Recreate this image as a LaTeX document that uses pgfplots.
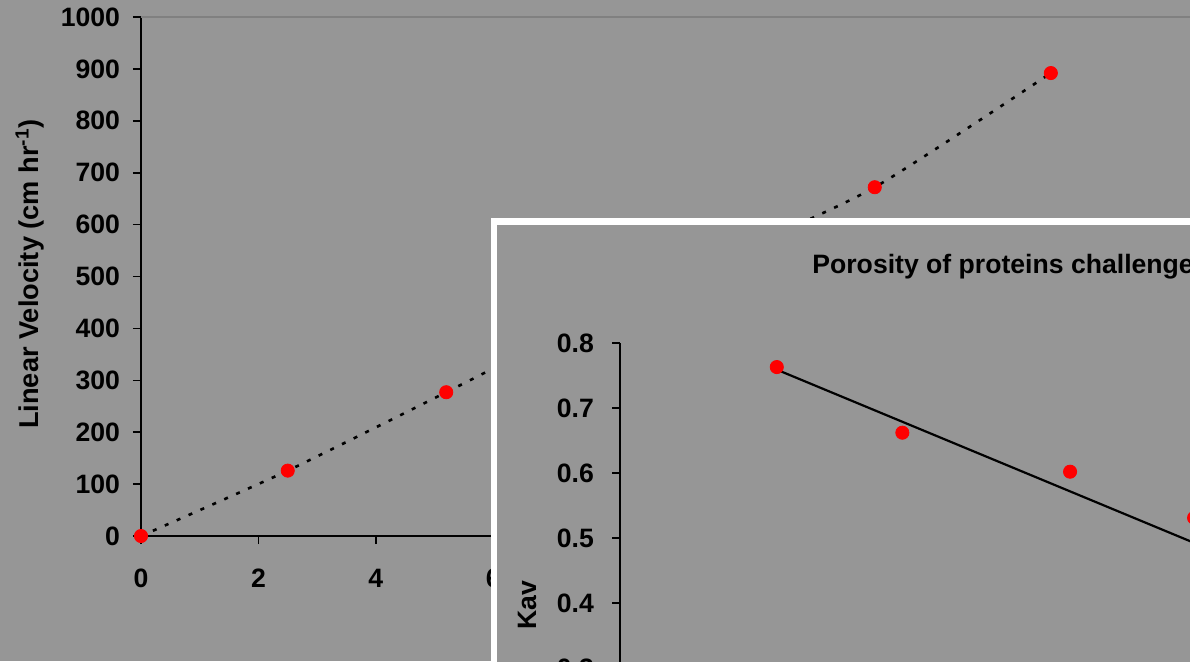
\documentclass[border=0pt]{standalone}
\usepackage{pgfplots}
\pgfplotsset{compat=1.18}
\usepackage{fontspec}
\setmainfont{Liberation Sans}
\definecolor{bg}{RGB}{150,150,150}
\definecolor{mk}{RGB}{255,0,0}
\definecolor{frame}{RGB}{128,128,128}
\begin{document}
\begin{tikzpicture}
\path[use as bounding box] (0,0) rectangle (595pt,330.5pt);
\clip (0,0) rectangle (595pt,330.5pt);
\fill[bg] (0,0) rectangle (595pt,330.5pt);
\begin{axis}[
  at={(70.5pt,62.5pt)}, anchor=south west,
  scale only axis, width=587pt, height=259.5pt,
  xmin=0, xmax=20, ymin=0, ymax=1000,
  xtick={0,2,...,16}, ytick={0,100,...,1000},
  axis lines=left, axis line style={-, line width=0.8pt, black},
  tick align=outside, major tick length=4pt,
  tick style={line width=0.8pt, black},
  clip=false,
  ticklabel style={font=\bfseries\fontsize{13.3}{15}\selectfont, black},
  /pgf/number format/assume math mode=true,
  /pgf/number format/1000 sep={},
  xticklabel style={yshift=-9pt},
  yticklabel style={xshift=-3pt},
]
\draw[frame, line width=0.8pt] (rel axis cs:0,1) -- (rel axis cs:1,1);
\addplot[black, line width=1.3pt, dash pattern=on 2pt off 4.5pt, smooth, tension=0.4]
  coordinates {(0,0) (2.5,126) (5.2,277) (7.7,420) (10.1,545) (12.5,672) (15.5,892)};
\addplot[only marks, mark=*, mark size=3.3pt, mark options={draw=mk, fill=mk}]
  coordinates {(0,0) (2.5,126) (5.2,277) (7.7,420) (10.1,545) (12.5,672) (15.5,892)};
\end{axis}
\node[rotate=90, font=\bfseries\fontsize{13.6}{15}\selectfont] at (15pt,193.5pt) {Linear Velocity (cm hr\textsuperscript{-1})};
% inset
\fill[white] (245.5pt,221.5pt) rectangle (600pt,-5pt);
\fill[bg] (248.5pt,218pt) rectangle (600pt,-5pt);
\begin{axis}[
  at={(310pt,159pt)}, anchor=north west,
  scale only axis, width=390pt, height=260pt,
  xmin=0, xmax=10, ymin=0, ymax=0.8,
  xtick=\empty, ytick={0.3,0.4,0.5,0.6,0.7,0.8},
  axis lines=left, axis line style={-, line width=0.8pt, black},
  tick align=outside, major tick length=4pt,
  tick style={line width=0.8pt, black},
  clip=false,
  ticklabel style={font=\bfseries\fontsize{13.3}{15}\selectfont, black},
  /pgf/number format/assume math mode=true,
  yticklabel style={/pgf/number format/fixed, /pgf/number format/precision=1, /pgf/number format/fixed zerofill, xshift=-5.5pt},
]
\addplot[black, line width=1.1pt] coordinates {(2.01,0.759) (9.5,0.386)};
\addplot[only marks, mark=*, mark size=3.3pt, mark options={draw=mk, fill=mk}]
  coordinates {(2.01,0.763) (3.62,0.662) (5.77,0.602) (7.36,0.531)};
\end{axis}
\node[anchor=west, inner sep=0pt, font=\bfseries\fontsize{13.3}{15}\selectfont] at (406pt,197pt) {Porosity of proteins challenged};
\node[rotate=90, font=\bfseries\fontsize{13.3}{15}\selectfont] at (263.5pt,28pt) {Kav};
\end{tikzpicture}
\end{document}
